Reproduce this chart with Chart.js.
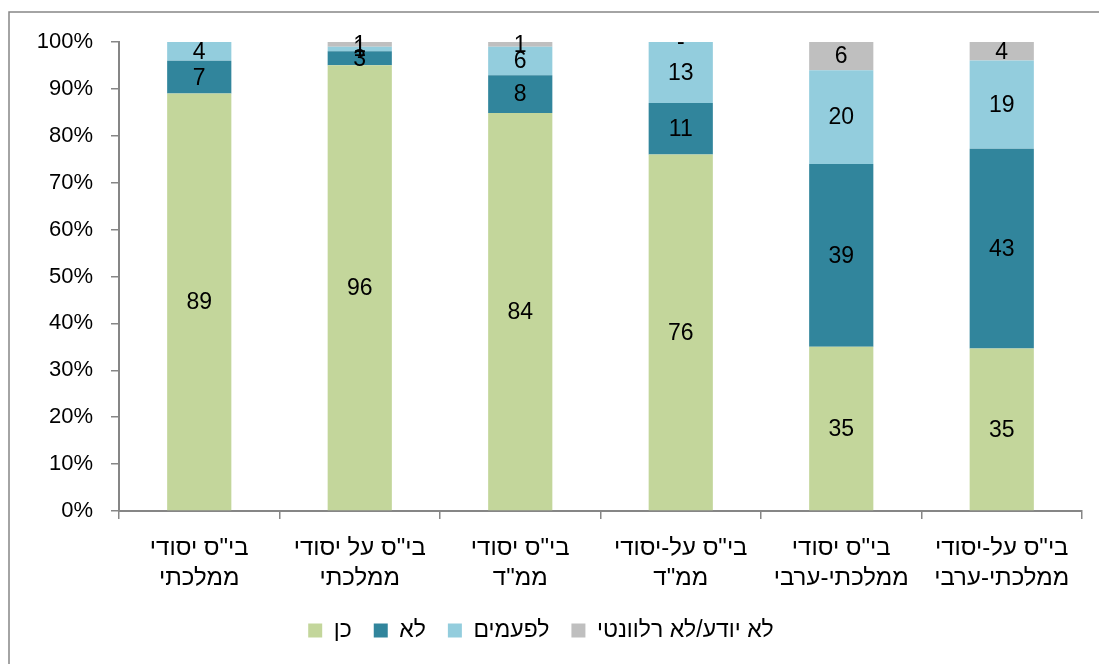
<!DOCTYPE html>
<html>
<head>
<meta charset="utf-8">
<script src="https://cdn.jsdelivr.net/npm/chart.js@4.4.1/dist/chart.umd.min.js"></script>
<style>
  html, body { margin: 0; padding: 0; background: #fff; }
  #wrap { width: 1099px; height: 664px; position: relative; }
</style>
</head>
<body>
<div id="wrap"><canvas id="myChart" width="1099" height="664"></canvas></div>
<script>
    // categories (two lines each) and series
    var categories = [
        ['בי"ס יסודי', 'ממלכתי'],
        ['בי"ס על יסודי', 'ממלכתי'],
        ['בי"ס יסודי', 'ממ"ד'],
        ['בי"ס על-יסודי', 'ממ"ד'],
        ['בי"ס יסודי', 'ממלכתי-ערבי'],
        ['בי"ס על-יסודי', 'ממלכתי-ערבי']
    ];
    var seriesNames = ['כן', 'לא', 'לפעמים', 'לא יודע/לא רלוונטי'];
    var yes       = [89, 96, 84, 76, 35, 35];
    var no        = [7, 3, 8, 11, 39, 43];
    var sometimes = [4, 1, 6, 13, 20, 19];
    var dontKnow  = [null, 1, 1, 0, 6, 4];   // null = no label, 0 = "-"
    var yTicks = [0, 10, 20, 30, 40, 50, 60, 70, 80, 90, 100];

    var colors = ['#C3D69B', '#31859C', '#93CDDD', '#BFBFBF'];
    var raw = [yes, no, sometimes, dontKnow];

    // 100% stacked: share of each bar's total
    var totals = categories.map(function (c, i) {
        var t = 0;
        raw.forEach(function (s) { t += (s[i] || 0); });
        return t;
    });
    function pct(arr) {
        return arr.map(function (v, i) { return (v || 0) / totals[i] * 100; });
    }

    var AXIS = '#868686';
    var FONT = '"Liberation Sans", Arial, sans-serif';

    var framePlugin = {
        id: 'frame',
        beforeDraw: function (chart) {
            var ctx = chart.ctx;
            ctx.save();
            ctx.fillStyle = '#fff';
            ctx.fillRect(0, 0, chart.width, chart.height);
            ctx.strokeStyle = AXIS;
            ctx.lineWidth = 1.5;
            ctx.beginPath();
            ctx.moveTo(9, chart.height);
            ctx.lineTo(9, 12);
            ctx.lineTo(chart.width, 12);
            ctx.stroke();
            ctx.restore();
        }
    };

    var labelPlugin = {
        id: 'segLabels',
        afterDatasetsDraw: function (chart) {
            var ctx = chart.ctx;
            ctx.save();
            ctx.font = '23px ' + FONT;
            ctx.fillStyle = '#000';
            ctx.textAlign = 'center';
            ctx.textBaseline = 'middle';
            chart.data.datasets.forEach(function (ds, di) {
                var meta = chart.getDatasetMeta(di);
                meta.data.forEach(function (bar, i) {
                    var v = raw[di][i];
                    if (v === null || v === undefined) return;
                    var txt = v === 0 ? '-' : String(v);
                    var y = (bar.y + bar.base) / 2;
                    ctx.fillText(txt, bar.x, y + 1);
                });
            });
            ctx.restore();
        }
    };

    var ctx = document.getElementById('myChart');
    var myChart = new Chart(ctx, {
        type: 'bar',
        data: {
            labels: categories,
            datasets: raw.map(function (s, k) {
                return {
                    label: seriesNames[k],
                    data: pct(s),
                    backgroundColor: colors[k],
                    borderWidth: 0,
                    categoryPercentage: 1,
                    barPercentage: 0.4
                };
            })
        },
        options: {
            responsive: false,
            animation: false,
            layout: { padding: { left: 0, right: 17, top: 42, bottom: 12 } },
            plugins: {
                tooltip: { enabled: false },
                legend: {
                    position: 'bottom',
                    labels: {
                        boxWidth: 14,
                        boxHeight: 14,
                        padding: 22,
                        color: '#000',
                        font: { family: FONT, size: 23 }
                    }
                }
            },
            scales: {
                x: {
                    stacked: true,
                    grid: { drawOnChartArea: false, tickLength: 8, color: AXIS, lineWidth: 1.5, offset: true },
                    border: { color: AXIS, width: 2 },
                    ticks: {
                        color: '#000',
                        padding: 14,
                        maxRotation: 0,
                        font: { family: FONT, size: 24, lineHeight: 1.25 }
                    },
                    afterFit: function (scale) { scale.height = 86; }
                },
                y: {
                    stacked: true,
                    min: 0,
                    max: 100,
                    afterBuildTicks: function (scale) {
                        scale.ticks = yTicks.map(function (v) { return { value: v }; });
                    },
                    grid: { drawOnChartArea: false, tickLength: 8, color: AXIS, lineWidth: 1.5 },
                    border: { color: AXIS, width: 2 },
                    ticks: {
                        color: '#000',
                        padding: 18,
                        font: { family: FONT, size: 22 },
                        callback: function (v) { return v + '%'; }
                    },
                    afterFit: function (scale) { scale.width = 119; }
                }
            }
        },
        plugins: [framePlugin, labelPlugin]
    });
</script>
</body>
</html>
